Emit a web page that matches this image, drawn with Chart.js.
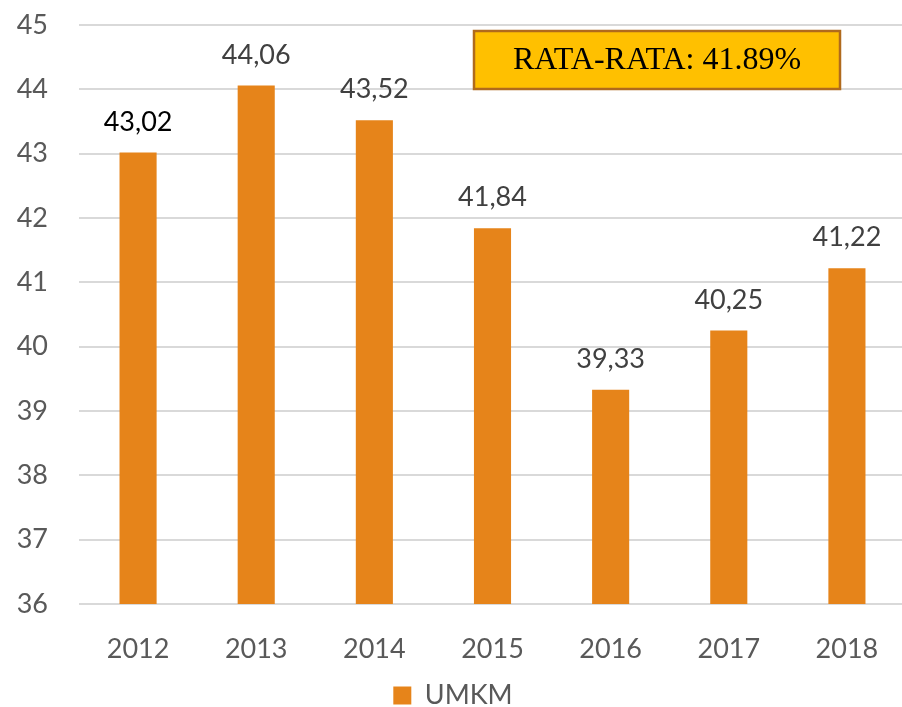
<!DOCTYPE html>
<html>
<head>
<meta charset="utf-8">
<script src="https://cdn.jsdelivr.net/npm/chart.js@4.4.1/dist/chart.umd.min.js"></script>
<style>
  html, body { margin: 0; padding: 0; overflow: hidden; background: #fff; }
  #wrap { position: absolute; left: 0; top: 0; width: 906px; height: 719px; }
</style>
</head>
<body>
<div id="wrap"><canvas id="myChart"></canvas></div>
<script>
// datos del grafico
const years = ['2012', '2013', '2014', '2015', '2016', '2017', '2018'];
const umkm = [43.02, 44.06, 43.52, 41.84, 39.33, 40.25, 41.22];
const yTicks = [36, 37, 38, 39, 40, 41, 42, 43, 44, 45];
const average = 41.89;

const orange = '#E6841A';
const grey = '#595959';

// etiquetas encima de cada barra
const barLabels = {
    id: 'barLabels',
    afterDatasetsDraw(chart) {
        const ctx = chart.ctx;
        const meta = chart.getDatasetMeta(0);
        ctx.save();
        ctx.font = '27px Lato';
        ctx.textAlign = 'center';
        ctx.textBaseline = 'bottom';
        meta.data.forEach((bar, i) => {
            ctx.fillStyle = i === 0 ? '#000000' : '#404040';
            ctx.fillText(umkm[i].toFixed(2).replace('.', ','), bar.x, bar.y - 17);
        });
        ctx.restore();
    }
};

// cuadro con el promedio
const averageBox = {
    id: 'averageBox',
    afterDraw(chart) {
        const ctx = chart.ctx;
        const a = chart.chartArea;
        const left = a.left + 395, top = a.top + 6, w = 366, h = 58;
        ctx.save();
        ctx.fillStyle = '#FFC000';
        ctx.fillRect(left, top, w, h);
        ctx.strokeStyle = '#B06A1C';
        ctx.lineWidth = 2.5;
        ctx.strokeRect(left, top, w, h);
        ctx.fillStyle = '#000';
        ctx.font = '32px "Liberation Serif"';
        ctx.textAlign = 'center';
        ctx.textBaseline = 'middle';
        ctx.fillText('RATA-RATA: ' + average.toFixed(2) + '%', left + w / 2, top + h / 2 + 1);
        ctx.restore();
    }
};

new Chart(document.getElementById('myChart'), {
    type: 'bar',
    data: {
        labels: years,
        datasets: [{
            label: 'UMKM',
            data: umkm,
            backgroundColor: orange,
            borderWidth: 0,
            barPercentage: 0.314,
            categoryPercentage: 1
        }]
    },
    options: {
        responsive: true,
        maintainAspectRatio: false,
        animation: false,
        layout: { padding: { top: 25, right: 0, left: 0, bottom: 0 } },
        scales: {
            x: {
                grid: { display: false },
                border: { display: false },
                afterFit: (scale) => { scale.height = 68; },
                ticks: { color: grey, font: { family: 'Lato', size: 27 }, padding: 21 }
            },
            y: {
                min: 36,
                max: 45,
                afterBuildTicks: (scale) => { scale.ticks = yTicks.map(v => ({ value: v })); },
                afterFit: (scale) => {
                    scale.width = 79;
                    scale.paddingTop = 0;
                    scale.paddingBottom = 0;
                },
                grid: { color: '#D9D9D9', lineWidth: 2, drawTicks: false },
                border: { display: false },
                ticks: { color: grey, font: { family: 'Lato', size: 27 }, padding: 31 }
            }
        },
        plugins: {
            legend: {
                position: 'bottom',
                labels: {
                    color: grey,
                    font: { family: 'Lato', size: 27 },
                    boxWidth: 18,
                    boxHeight: 18,
                    padding: 10
                }
            },
            tooltip: { enabled: false }
        }
    },
    plugins: [barLabels, averageBox]
});
</script>
</body>
</html>
